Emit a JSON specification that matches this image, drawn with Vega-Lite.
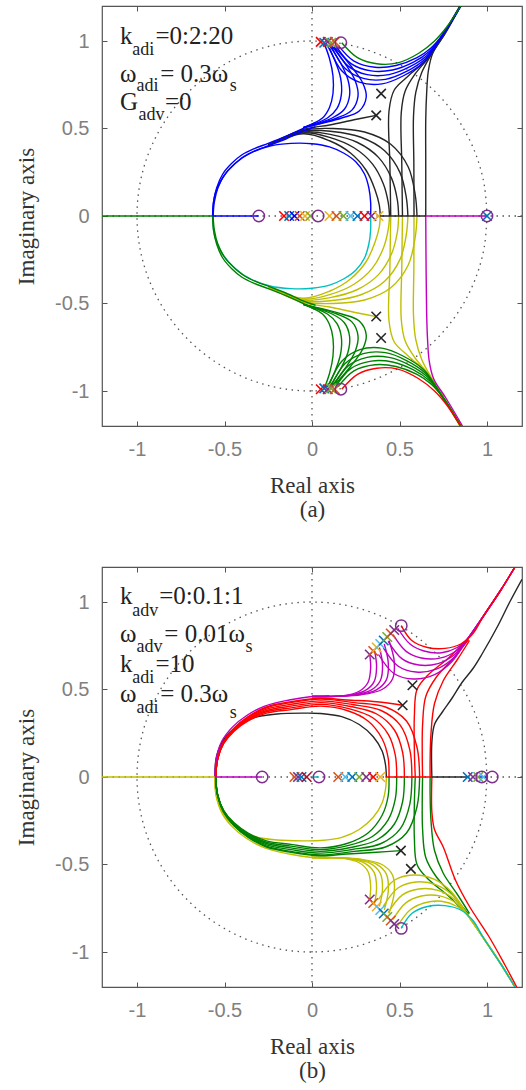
{
"$schema":"https://vega.github.io/schema/vega-lite/v6.json",
"background":"white",
"padding":{"left":14,"top":4,"right":0,"bottom":0},
"spacing":43,
"config":{
 "view":{"stroke":"#555","strokeWidth":1.2},
 "axis":{"grid":false,"domain":false,"labelFont":"Liberation Sans","labelFontSize":20,"labelColor":"#808080","titleFont":"Liberation Serif, Times New Roman, serif","titleFontSize":23,"titleFontWeight":"normal","titleColor":"#333","tickColor":"#555","tickSize":-5,"tickWidth":1},
 "axisX":{"labelPadding":18,"titlePadding":15,"titleLineHeight":24},
 "axisY":{"labelPadding":18,"titlePadding":16}
},
"datasets":{
"circ":[{"x":1,"y":0},{"x":0.985,"y":0.174},{"x":0.94,"y":0.342},{"x":0.866,"y":0.5},{"x":0.766,"y":0.643},{"x":0.643,"y":0.766},{"x":0.5,"y":0.866},{"x":0.342,"y":0.94},{"x":0.174,"y":0.985},{"x":0,"y":1},{"x":-0.174,"y":0.985},{"x":-0.342,"y":0.94},{"x":-0.5,"y":0.866},{"x":-0.643,"y":0.766},{"x":-0.766,"y":0.643},{"x":-0.866,"y":0.5},{"x":-0.94,"y":0.342},{"x":-0.985,"y":0.174},{"x":-1,"y":0},{"x":-0.985,"y":-0.174},{"x":-0.94,"y":-0.342},{"x":-0.866,"y":-0.5},{"x":-0.766,"y":-0.643},{"x":-0.643,"y":-0.766},{"x":-0.5,"y":-0.866},{"x":-0.342,"y":-0.94},{"x":-0.174,"y":-0.985},{"x":0,"y":-1},{"x":0.174,"y":-0.985},{"x":0.342,"y":-0.94},{"x":0.5,"y":-0.866},{"x":0.643,"y":-0.766},{"x":0.766,"y":-0.643},{"x":0.866,"y":-0.5},{"x":0.94,"y":-0.342},{"x":0.985,"y":-0.174},{"x":1,"y":0}],
"al":[
{"k":"k0","c":"K","x":-0.25,"y":0.405},{"k":"k0","c":"K","x":-0.05,"y":0.47},{"k":"k0","c":"K","x":0.1,"y":0.43},{"k":"k0","c":"K","x":0.22,"y":0.36},{"k":"k0","c":"K","x":0.31,"y":0.26},{"k":"k0","c":"K","x":0.36,"y":0.15},{"k":"k0","c":"K","x":0.385,"y":0.06},{"k":"k0","c":"K","x":0.39,"y":0},
{"k":"k1","c":"K","x":-0.25,"y":0.405},{"k":"k1","c":"K","x":-0.05,"y":0.475},{"k":"k1","c":"K","x":0.105,"y":0.448},{"k":"k1","c":"K","x":0.24,"y":0.39},{"k":"k1","c":"K","x":0.345,"y":0.298},{"k":"k1","c":"K","x":0.408,"y":0.183},{"k":"k1","c":"K","x":0.436,"y":0.075},{"k":"k1","c":"K","x":0.443,"y":0},
{"k":"k2","c":"K","x":-0.25,"y":0.405},{"k":"k2","c":"K","x":-0.05,"y":0.48},{"k":"k2","c":"K","x":0.11,"y":0.465},{"k":"k2","c":"K","x":0.26,"y":0.42},{"k":"k2","c":"K","x":0.38,"y":0.335},{"k":"k2","c":"K","x":0.455,"y":0.215},{"k":"k2","c":"K","x":0.488,"y":0.09},{"k":"k2","c":"K","x":0.495,"y":0},
{"k":"k3","c":"K","x":-0.25,"y":0.405},{"k":"k3","c":"K","x":-0.05,"y":0.485},{"k":"k3","c":"K","x":0.115,"y":0.483},{"k":"k3","c":"K","x":0.28,"y":0.45},{"k":"k3","c":"K","x":0.415,"y":0.373},{"k":"k3","c":"K","x":0.503,"y":0.248},{"k":"k3","c":"K","x":0.539,"y":0.105},{"k":"k3","c":"K","x":0.548,"y":0},
{"k":"k4","c":"K","x":-0.25,"y":0.405},{"k":"k4","c":"K","x":-0.05,"y":0.49},{"k":"k4","c":"K","x":0.12,"y":0.5},{"k":"k4","c":"K","x":0.3,"y":0.48},{"k":"k4","c":"K","x":0.45,"y":0.41},{"k":"k4","c":"K","x":0.55,"y":0.28},{"k":"k4","c":"K","x":0.59,"y":0.12},{"k":"k4","c":"K","x":0.6,"y":0},
{"k":"kx","c":"K","x":-0.25,"y":0.405},{"k":"kx","c":"K","x":-0.05,"y":0.495},{"k":"kx","c":"K","x":0.1,"y":0.52},{"k":"kx","c":"K","x":0.24,"y":0.55},{"k":"kx","c":"K","x":0.367,"y":0.575},
{"k":"d0","c":"K","x":0.845,"y":1.2},{"k":"d0","c":"K","x":0.75,"y":1.04},{"k":"d0","c":"K","x":0.66,"y":0.9},{"k":"d0","c":"K","x":0.55,"y":0.8},{"k":"d0","c":"K","x":0.47,"y":0.72},{"k":"d0","c":"K","x":0.44,"y":0.6},{"k":"d0","c":"K","x":0.445,"y":0.3},{"k":"d0","c":"K","x":0.45,"y":0},
{"k":"d1","c":"K","x":0.847,"y":1.2},{"k":"d1","c":"K","x":0.753,"y":1.04},{"k":"d1","c":"K","x":0.67,"y":0.91},{"k":"d1","c":"K","x":0.588,"y":0.81},{"k":"d1","c":"K","x":0.532,"y":0.713},{"k":"d1","c":"K","x":0.51,"y":0.59},{"k":"d1","c":"K","x":0.513,"y":0.3},{"k":"d1","c":"K","x":0.517,"y":0},
{"k":"d2","c":"K","x":0.848,"y":1.2},{"k":"d2","c":"K","x":0.757,"y":1.04},{"k":"d2","c":"K","x":0.68,"y":0.92},{"k":"d2","c":"K","x":0.627,"y":0.82},{"k":"d2","c":"K","x":0.593,"y":0.707},{"k":"d2","c":"K","x":0.58,"y":0.57},{"k":"d2","c":"K","x":0.582,"y":0.3},{"k":"d2","c":"K","x":0.583,"y":0},
{"k":"d3","c":"K","x":0.85,"y":1.2},{"k":"d3","c":"K","x":0.76,"y":1.04},{"k":"d3","c":"K","x":0.69,"y":0.93},{"k":"d3","c":"K","x":0.665,"y":0.83},{"k":"d3","c":"K","x":0.655,"y":0.7},{"k":"d3","c":"K","x":0.65,"y":0.55},{"k":"d3","c":"K","x":0.65,"y":0.3},{"k":"d3","c":"K","x":0.65,"y":0},
{"k":"ic","c":"B","x":-0.568,"y":0},{"k":"ic","c":"B","x":-0.555,"y":0.12},{"k":"ic","c":"B","x":-0.51,"y":0.22},{"k":"ic","c":"B","x":-0.44,"y":0.3},{"k":"ic","c":"B","x":-0.35,"y":0.36},{"k":"ic","c":"B","x":-0.24,"y":0.4},{"k":"ic","c":"B","x":-0.12,"y":0.415},{"k":"ic","c":"B","x":0,"y":0.413},{"k":"ic","c":"B","x":0.1,"y":0.395},{"k":"ic","c":"B","x":0.18,"y":0.36},{"k":"ic","c":"B","x":0.25,"y":0.31},{"k":"ic","c":"B","x":0.3,"y":0.24},{"k":"ic","c":"B","x":0.325,"y":0.16},{"k":"ic","c":"B","x":0.335,"y":0.08},{"k":"ic","c":"B","x":0.335,"y":0},
{"k":"ob1","c":"B","x":-0.568,"y":0},{"k":"ob1","c":"B","x":-0.563,"y":0.08},{"k":"ob1","c":"B","x":-0.545,"y":0.16},{"k":"ob1","c":"B","x":-0.51,"y":0.24},{"k":"ob1","c":"B","x":-0.46,"y":0.3},{"k":"ob1","c":"B","x":-0.4,"y":0.35},{"k":"ob1","c":"B","x":-0.33,"y":0.385},{"k":"ob1","c":"B","x":-0.25,"y":0.415},{"k":"ob1","c":"B","x":-0.15,"y":0.455},{"k":"ob1","c":"B","x":-0.05,"y":0.5},{"k":"ob1","c":"B","x":0.02,"y":0.535},
{"k":"ob2","c":"B","x":-0.565,"y":0},{"k":"ob2","c":"B","x":-0.558,"y":0.08},{"k":"ob2","c":"B","x":-0.538,"y":0.16},{"k":"ob2","c":"B","x":-0.5,"y":0.235},{"k":"ob2","c":"B","x":-0.45,"y":0.29},{"k":"ob2","c":"B","x":-0.39,"y":0.34},{"k":"ob2","c":"B","x":-0.32,"y":0.375},{"k":"ob2","c":"B","x":-0.24,"y":0.405},{"k":"ob2","c":"B","x":-0.15,"y":0.44},{"k":"ob2","c":"B","x":-0.05,"y":0.485},{"k":"ob2","c":"B","x":0.02,"y":0.51},
{"k":"u0","c":"B","x":0.07,"y":0.985},{"k":"u0","c":"B","x":0.1,"y":0.9},{"k":"u0","c":"B","x":0.12,"y":0.8},{"k":"u0","c":"B","x":0.12,"y":0.7},{"k":"u0","c":"B","x":0.1,"y":0.62},{"k":"u0","c":"B","x":0.06,"y":0.56},{"k":"u0","c":"B","x":-0.05,"y":0.505},
{"k":"u1","c":"B","x":0.085,"y":0.98},{"k":"u1","c":"B","x":0.13,"y":0.89},{"k":"u1","c":"B","x":0.163,"y":0.79},{"k":"u1","c":"B","x":0.168,"y":0.695},{"k":"u1","c":"B","x":0.143,"y":0.615},{"k":"u1","c":"B","x":0.088,"y":0.56},{"k":"u1","c":"B","x":-0.05,"y":0.505},
{"k":"u2","c":"B","x":0.1,"y":0.975},{"k":"u2","c":"B","x":0.16,"y":0.88},{"k":"u2","c":"B","x":0.205,"y":0.78},{"k":"u2","c":"B","x":0.215,"y":0.69},{"k":"u2","c":"B","x":0.185,"y":0.61},{"k":"u2","c":"B","x":0.115,"y":0.56},{"k":"u2","c":"B","x":-0.05,"y":0.505},
{"k":"u3","c":"B","x":0.115,"y":0.97},{"k":"u3","c":"B","x":0.19,"y":0.87},{"k":"u3","c":"B","x":0.248,"y":0.77},{"k":"u3","c":"B","x":0.263,"y":0.685},{"k":"u3","c":"B","x":0.228,"y":0.605},{"k":"u3","c":"B","x":0.143,"y":0.56},{"k":"u3","c":"B","x":-0.05,"y":0.505},
{"k":"u4","c":"B","x":0.13,"y":0.965},{"k":"u4","c":"B","x":0.22,"y":0.86},{"k":"u4","c":"B","x":0.29,"y":0.76},{"k":"u4","c":"B","x":0.31,"y":0.68},{"k":"u4","c":"B","x":0.27,"y":0.6},{"k":"u4","c":"B","x":0.17,"y":0.56},{"k":"u4","c":"B","x":-0.05,"y":0.505},
{"k":"r0","c":"B","x":0.15,"y":0.975},{"k":"r0","c":"B","x":0.24,"y":0.885},{"k":"r0","c":"B","x":0.36,"y":0.85},{"k":"r0","c":"B","x":0.48,"y":0.86},{"k":"r0","c":"B","x":0.6,"y":0.905},{"k":"r0","c":"B","x":0.68,"y":0.96},{"k":"r0","c":"B","x":0.75,"y":1.04},{"k":"r0","c":"B","x":0.85,"y":1.2},
{"k":"r1","c":"B","x":0.138,"y":0.971},{"k":"r1","c":"B","x":0.223,"y":0.871},{"k":"r1","c":"B","x":0.338,"y":0.829},{"k":"r1","c":"B","x":0.46,"y":0.834},{"k":"r1","c":"B","x":0.58,"y":0.879},{"k":"r1","c":"B","x":0.67,"y":0.94},{"k":"r1","c":"B","x":0.75,"y":1.04},{"k":"r1","c":"B","x":0.85,"y":1.2},
{"k":"r2","c":"B","x":0.125,"y":0.968},{"k":"r2","c":"B","x":0.205,"y":0.858},{"k":"r2","c":"B","x":0.315,"y":0.808},{"k":"r2","c":"B","x":0.44,"y":0.808},{"k":"r2","c":"B","x":0.56,"y":0.853},{"k":"r2","c":"B","x":0.66,"y":0.92},{"k":"r2","c":"B","x":0.75,"y":1.04},{"k":"r2","c":"B","x":0.85,"y":1.2},
{"k":"r3","c":"B","x":0.113,"y":0.964},{"k":"r3","c":"B","x":0.188,"y":0.844},{"k":"r3","c":"B","x":0.293,"y":0.786},{"k":"r3","c":"B","x":0.42,"y":0.781},{"k":"r3","c":"B","x":0.54,"y":0.826},{"k":"r3","c":"B","x":0.65,"y":0.9},{"k":"r3","c":"B","x":0.75,"y":1.04},{"k":"r3","c":"B","x":0.85,"y":1.2},
{"k":"r4","c":"B","x":0.1,"y":0.96},{"k":"r4","c":"B","x":0.17,"y":0.83},{"k":"r4","c":"B","x":0.27,"y":0.765},{"k":"r4","c":"B","x":0.4,"y":0.755},{"k":"r4","c":"B","x":0.52,"y":0.8},{"k":"r4","c":"B","x":0.64,"y":0.88},{"k":"r4","c":"B","x":0.75,"y":1.04},{"k":"r4","c":"B","x":0.85,"y":1.2},
{"k":"gt","c":"G","x":0.17,"y":0.99},{"k":"gt","c":"G","x":0.26,"y":0.905},{"k":"gt","c":"G","x":0.37,"y":0.87},{"k":"gt","c":"G","x":0.49,"y":0.875},{"k":"gt","c":"G","x":0.61,"y":0.93},{"k":"gt","c":"G","x":0.7,"y":1},{"k":"gt","c":"G","x":0.77,"y":1.08},{"k":"gt","c":"G","x":0.85,"y":1.2},
{"k":"k0L","c":"Y","x":-0.25,"y":-0.405},{"k":"k0L","c":"Y","x":-0.05,"y":-0.47},{"k":"k0L","c":"Y","x":0.1,"y":-0.43},{"k":"k0L","c":"Y","x":0.22,"y":-0.36},{"k":"k0L","c":"Y","x":0.31,"y":-0.26},{"k":"k0L","c":"Y","x":0.36,"y":-0.15},{"k":"k0L","c":"Y","x":0.385,"y":-0.06},{"k":"k0L","c":"Y","x":0.39,"y":0},
{"k":"k1L","c":"Y","x":-0.25,"y":-0.405},{"k":"k1L","c":"Y","x":-0.05,"y":-0.475},{"k":"k1L","c":"Y","x":0.105,"y":-0.448},{"k":"k1L","c":"Y","x":0.24,"y":-0.39},{"k":"k1L","c":"Y","x":0.345,"y":-0.298},{"k":"k1L","c":"Y","x":0.408,"y":-0.183},{"k":"k1L","c":"Y","x":0.436,"y":-0.075},{"k":"k1L","c":"Y","x":0.443,"y":0},
{"k":"k2L","c":"Y","x":-0.25,"y":-0.405},{"k":"k2L","c":"Y","x":-0.05,"y":-0.48},{"k":"k2L","c":"Y","x":0.11,"y":-0.465},{"k":"k2L","c":"Y","x":0.26,"y":-0.42},{"k":"k2L","c":"Y","x":0.38,"y":-0.335},{"k":"k2L","c":"Y","x":0.455,"y":-0.215},{"k":"k2L","c":"Y","x":0.488,"y":-0.09},{"k":"k2L","c":"Y","x":0.495,"y":0},
{"k":"k3L","c":"Y","x":-0.25,"y":-0.405},{"k":"k3L","c":"Y","x":-0.05,"y":-0.485},{"k":"k3L","c":"Y","x":0.115,"y":-0.483},{"k":"k3L","c":"Y","x":0.28,"y":-0.45},{"k":"k3L","c":"Y","x":0.415,"y":-0.373},{"k":"k3L","c":"Y","x":0.503,"y":-0.248},{"k":"k3L","c":"Y","x":0.539,"y":-0.105},{"k":"k3L","c":"Y","x":0.548,"y":0},
{"k":"k4L","c":"Y","x":-0.25,"y":-0.405},{"k":"k4L","c":"Y","x":-0.05,"y":-0.49},{"k":"k4L","c":"Y","x":0.12,"y":-0.5},{"k":"k4L","c":"Y","x":0.3,"y":-0.48},{"k":"k4L","c":"Y","x":0.45,"y":-0.41},{"k":"k4L","c":"Y","x":0.55,"y":-0.28},{"k":"k4L","c":"Y","x":0.59,"y":-0.12},{"k":"k4L","c":"Y","x":0.6,"y":0},
{"k":"kxL","c":"Y","x":-0.25,"y":-0.405},{"k":"kxL","c":"Y","x":-0.05,"y":-0.495},{"k":"kxL","c":"Y","x":0.1,"y":-0.52},{"k":"kxL","c":"Y","x":0.24,"y":-0.55},{"k":"kxL","c":"Y","x":0.367,"y":-0.575},
{"k":"d0L","c":"Y","x":0.845,"y":-1.2},{"k":"d0L","c":"Y","x":0.75,"y":-1.04},{"k":"d0L","c":"Y","x":0.66,"y":-0.9},{"k":"d0L","c":"Y","x":0.55,"y":-0.8},{"k":"d0L","c":"Y","x":0.47,"y":-0.72},{"k":"d0L","c":"Y","x":0.44,"y":-0.6},{"k":"d0L","c":"Y","x":0.445,"y":-0.3},{"k":"d0L","c":"Y","x":0.45,"y":0},
{"k":"d1L","c":"Y","x":0.847,"y":-1.2},{"k":"d1L","c":"Y","x":0.753,"y":-1.04},{"k":"d1L","c":"Y","x":0.67,"y":-0.91},{"k":"d1L","c":"Y","x":0.588,"y":-0.81},{"k":"d1L","c":"Y","x":0.532,"y":-0.713},{"k":"d1L","c":"Y","x":0.51,"y":-0.59},{"k":"d1L","c":"Y","x":0.513,"y":-0.3},{"k":"d1L","c":"Y","x":0.517,"y":0},
{"k":"d2L","c":"Y","x":0.848,"y":-1.2},{"k":"d2L","c":"Y","x":0.757,"y":-1.04},{"k":"d2L","c":"Y","x":0.68,"y":-0.92},{"k":"d2L","c":"Y","x":0.627,"y":-0.82},{"k":"d2L","c":"Y","x":0.593,"y":-0.707},{"k":"d2L","c":"Y","x":0.58,"y":-0.57},{"k":"d2L","c":"Y","x":0.582,"y":-0.3},{"k":"d2L","c":"Y","x":0.583,"y":0},
{"k":"d3L","c":"M","x":0.86,"y":-1.2},{"k":"d3L","c":"M","x":0.765,"y":-1.04},{"k":"d3L","c":"M","x":0.695,"y":-0.93},{"k":"d3L","c":"M","x":0.67,"y":-0.83},{"k":"d3L","c":"M","x":0.66,"y":-0.7},{"k":"d3L","c":"M","x":0.655,"y":-0.55},{"k":"d3L","c":"M","x":0.652,"y":-0.3},{"k":"d3L","c":"M","x":0.65,"y":0},
{"k":"icL","c":"C","x":-0.568,"y":0},{"k":"icL","c":"C","x":-0.555,"y":-0.12},{"k":"icL","c":"C","x":-0.51,"y":-0.22},{"k":"icL","c":"C","x":-0.44,"y":-0.3},{"k":"icL","c":"C","x":-0.35,"y":-0.36},{"k":"icL","c":"C","x":-0.24,"y":-0.4},{"k":"icL","c":"C","x":-0.12,"y":-0.415},{"k":"icL","c":"C","x":0,"y":-0.413},{"k":"icL","c":"C","x":0.1,"y":-0.395},{"k":"icL","c":"C","x":0.18,"y":-0.36},{"k":"icL","c":"C","x":0.25,"y":-0.31},{"k":"icL","c":"C","x":0.3,"y":-0.24},{"k":"icL","c":"C","x":0.325,"y":-0.16},{"k":"icL","c":"C","x":0.335,"y":-0.08},{"k":"icL","c":"C","x":0.335,"y":0},
{"k":"ob1L","c":"G","x":-0.568,"y":0},{"k":"ob1L","c":"G","x":-0.563,"y":-0.08},{"k":"ob1L","c":"G","x":-0.545,"y":-0.16},{"k":"ob1L","c":"G","x":-0.51,"y":-0.24},{"k":"ob1L","c":"G","x":-0.46,"y":-0.3},{"k":"ob1L","c":"G","x":-0.4,"y":-0.35},{"k":"ob1L","c":"G","x":-0.33,"y":-0.385},{"k":"ob1L","c":"G","x":-0.25,"y":-0.415},{"k":"ob1L","c":"G","x":-0.15,"y":-0.455},{"k":"ob1L","c":"G","x":-0.05,"y":-0.5},{"k":"ob1L","c":"G","x":0.02,"y":-0.535},
{"k":"ob2L","c":"G","x":-0.565,"y":0},{"k":"ob2L","c":"G","x":-0.558,"y":-0.08},{"k":"ob2L","c":"G","x":-0.538,"y":-0.16},{"k":"ob2L","c":"G","x":-0.5,"y":-0.235},{"k":"ob2L","c":"G","x":-0.45,"y":-0.29},{"k":"ob2L","c":"G","x":-0.39,"y":-0.34},{"k":"ob2L","c":"G","x":-0.32,"y":-0.375},{"k":"ob2L","c":"G","x":-0.24,"y":-0.405},{"k":"ob2L","c":"G","x":-0.15,"y":-0.44},{"k":"ob2L","c":"G","x":-0.05,"y":-0.485},{"k":"ob2L","c":"G","x":0.02,"y":-0.51},
{"k":"u0L","c":"G","x":0.07,"y":-0.985},{"k":"u0L","c":"G","x":0.1,"y":-0.9},{"k":"u0L","c":"G","x":0.12,"y":-0.8},{"k":"u0L","c":"G","x":0.12,"y":-0.7},{"k":"u0L","c":"G","x":0.1,"y":-0.62},{"k":"u0L","c":"G","x":0.06,"y":-0.56},{"k":"u0L","c":"G","x":-0.05,"y":-0.505},
{"k":"u1L","c":"G","x":0.085,"y":-0.98},{"k":"u1L","c":"G","x":0.13,"y":-0.89},{"k":"u1L","c":"G","x":0.163,"y":-0.79},{"k":"u1L","c":"G","x":0.168,"y":-0.695},{"k":"u1L","c":"G","x":0.143,"y":-0.615},{"k":"u1L","c":"G","x":0.088,"y":-0.56},{"k":"u1L","c":"G","x":-0.05,"y":-0.505},
{"k":"u2L","c":"G","x":0.1,"y":-0.975},{"k":"u2L","c":"G","x":0.16,"y":-0.88},{"k":"u2L","c":"G","x":0.205,"y":-0.78},{"k":"u2L","c":"G","x":0.215,"y":-0.69},{"k":"u2L","c":"G","x":0.185,"y":-0.61},{"k":"u2L","c":"G","x":0.115,"y":-0.56},{"k":"u2L","c":"G","x":-0.05,"y":-0.505},
{"k":"u3L","c":"G","x":0.115,"y":-0.97},{"k":"u3L","c":"G","x":0.19,"y":-0.87},{"k":"u3L","c":"G","x":0.248,"y":-0.77},{"k":"u3L","c":"G","x":0.263,"y":-0.685},{"k":"u3L","c":"G","x":0.228,"y":-0.605},{"k":"u3L","c":"G","x":0.143,"y":-0.56},{"k":"u3L","c":"G","x":-0.05,"y":-0.505},
{"k":"u4L","c":"G","x":0.13,"y":-0.965},{"k":"u4L","c":"G","x":0.22,"y":-0.86},{"k":"u4L","c":"G","x":0.29,"y":-0.76},{"k":"u4L","c":"G","x":0.31,"y":-0.68},{"k":"u4L","c":"G","x":0.27,"y":-0.6},{"k":"u4L","c":"G","x":0.17,"y":-0.56},{"k":"u4L","c":"G","x":-0.05,"y":-0.505},
{"k":"r0L","c":"G","x":0.15,"y":-0.975},{"k":"r0L","c":"G","x":0.24,"y":-0.885},{"k":"r0L","c":"G","x":0.36,"y":-0.85},{"k":"r0L","c":"G","x":0.48,"y":-0.86},{"k":"r0L","c":"G","x":0.6,"y":-0.905},{"k":"r0L","c":"G","x":0.68,"y":-0.96},{"k":"r0L","c":"G","x":0.75,"y":-1.04},{"k":"r0L","c":"G","x":0.85,"y":-1.2},
{"k":"r1L","c":"G","x":0.138,"y":-0.971},{"k":"r1L","c":"G","x":0.223,"y":-0.871},{"k":"r1L","c":"G","x":0.338,"y":-0.829},{"k":"r1L","c":"G","x":0.46,"y":-0.834},{"k":"r1L","c":"G","x":0.58,"y":-0.879},{"k":"r1L","c":"G","x":0.67,"y":-0.94},{"k":"r1L","c":"G","x":0.75,"y":-1.04},{"k":"r1L","c":"G","x":0.85,"y":-1.2},
{"k":"r2L","c":"G","x":0.125,"y":-0.968},{"k":"r2L","c":"G","x":0.205,"y":-0.858},{"k":"r2L","c":"G","x":0.315,"y":-0.808},{"k":"r2L","c":"G","x":0.44,"y":-0.808},{"k":"r2L","c":"G","x":0.56,"y":-0.853},{"k":"r2L","c":"G","x":0.66,"y":-0.92},{"k":"r2L","c":"G","x":0.75,"y":-1.04},{"k":"r2L","c":"G","x":0.85,"y":-1.2},
{"k":"r3L","c":"G","x":0.113,"y":-0.964},{"k":"r3L","c":"G","x":0.188,"y":-0.844},{"k":"r3L","c":"G","x":0.293,"y":-0.786},{"k":"r3L","c":"G","x":0.42,"y":-0.781},{"k":"r3L","c":"G","x":0.54,"y":-0.826},{"k":"r3L","c":"G","x":0.65,"y":-0.9},{"k":"r3L","c":"G","x":0.75,"y":-1.04},{"k":"r3L","c":"G","x":0.85,"y":-1.2},
{"k":"r4L","c":"G","x":0.1,"y":-0.96},{"k":"r4L","c":"G","x":0.17,"y":-0.83},{"k":"r4L","c":"G","x":0.27,"y":-0.765},{"k":"r4L","c":"G","x":0.4,"y":-0.755},{"k":"r4L","c":"G","x":0.52,"y":-0.8},{"k":"r4L","c":"G","x":0.64,"y":-0.88},{"k":"r4L","c":"G","x":0.75,"y":-1.04},{"k":"r4L","c":"G","x":0.85,"y":-1.2},
{"k":"gtL","c":"R","x":0.17,"y":-0.99},{"k":"gtL","c":"R","x":0.26,"y":-0.905},{"k":"gtL","c":"R","x":0.37,"y":-0.87},{"k":"gtL","c":"R","x":0.49,"y":-0.875},{"k":"gtL","c":"R","x":0.61,"y":-0.93},{"k":"gtL","c":"R","x":0.7,"y":-1},{"k":"gtL","c":"R","x":0.77,"y":-1.08},{"k":"gtL","c":"R","x":0.85,"y":-1.2},
{"k":"gr","c":"G","x":-1.2,"y":0},{"k":"gr","c":"G","x":-0.568,"y":0},
{"k":"br","c":"B","x":-0.568,"y":0},{"k":"br","c":"B","x":-0.304,"y":0},
{"k":"kr","c":"K","x":0.38,"y":0},{"k":"kr","c":"K","x":0.65,"y":0},
{"k":"mr","c":"M","x":0.65,"y":0},{"k":"mr","c":"M","x":1,"y":0}
],
"ax":[
{"c":"R","x":0.05,"y":0.995},{"c":"m1","x":0.07,"y":0.99},{"c":"m4","x":0.09,"y":0.995},{"c":"m5","x":0.11,"y":0.99},{"c":"m2","x":0.13,"y":0.995},
{"c":"R","x":0.05,"y":-0.99},{"c":"m1","x":0.07,"y":-0.985},{"c":"m4","x":0.09,"y":-0.99},{"c":"m5","x":0.11,"y":-0.985},{"c":"m2","x":0.13,"y":-0.99},
{"c":"R","x":-0.16,"y":0},{"c":"m1","x":-0.13,"y":0},{"c":"B","x":-0.1,"y":0},{"c":"m2","x":-0.07,"y":0},{"c":"m3","x":-0.04,"y":0},{"c":"m5","x":-0.01,"y":0},
{"c":"m3","x":0.1,"y":0},{"c":"m2","x":0.14,"y":0},{"c":"m5","x":0.18,"y":0},{"c":"m6","x":0.22,"y":0},{"c":"m1","x":0.26,"y":0},{"c":"R","x":0.3,"y":0},{"c":"m4","x":0.34,"y":0},{"c":"m3","x":0.38,"y":0},{"c":"m1","x":1,"y":0},
{"c":"K","x":0.395,"y":0.699},{"c":"K","x":0.367,"y":0.575},{"c":"K","x":0.367,"y":-0.574},{"c":"K","x":0.395,"y":-0.697}
],
"ao":[{"x":-0.304,"y":0},{"x":0.035,"y":0},{"x":1,"y":0},{"x":0.165,"y":0.99},{"x":0.165,"y":-0.99}],
"at":[{"t":"k","x":-1.097,"y":0.983},{"t":"=0:2:20","x":-0.895,"y":0.983},{"t":"ω","x":-1.097,"y":0.765},{"t":"= 0.3ω","x":-0.867,"y":0.765},{"t":"G","x":-1.097,"y":0.603},{"t":"=0","x":-0.84,"y":0.603}],
"as":[{"t":"adi","x":-1.027,"y":0.921},{"t":"adi","x":-1.003,"y":0.712},{"t":"s","x":-0.47,"y":0.712},{"t":"adv","x":-0.992,"y":0.547}],
"bl":[
{"k":"bi","c":"K","x":-0.555,"y":0},{"k":"bi","c":"K","x":-0.545,"y":0.12},{"k":"bi","c":"K","x":-0.5,"y":0.22},{"k":"bi","c":"K","x":-0.43,"y":0.29},{"k":"bi","c":"K","x":-0.33,"y":0.34},{"k":"bi","c":"K","x":-0.2,"y":0.36},{"k":"bi","c":"K","x":-0.05,"y":0.365},{"k":"bi","c":"K","x":0.05,"y":0.363},{"k":"bi","c":"K","x":0.17,"y":0.345},{"k":"bi","c":"K","x":0.27,"y":0.3},{"k":"bi","c":"K","x":0.35,"y":0.23},{"k":"bi","c":"K","x":0.4,"y":0.15},{"k":"bi","c":"K","x":0.42,"y":0.07},{"k":"bi","c":"K","x":0.425,"y":0},
{"k":"R0","c":"R","x":-0.55,"y":0},{"k":"R0","c":"R","x":-0.54,"y":0.1},{"k":"R0","c":"R","x":-0.505,"y":0.19},{"k":"R0","c":"R","x":-0.445,"y":0.262},{"k":"R0","c":"R","x":-0.365,"y":0.32},{"k":"R0","c":"R","x":-0.26,"y":0.365},{"k":"R0","c":"R","x":-0.12,"y":0.385},{"k":"R0","c":"R","x":0.05,"y":0.405},{"k":"R0","c":"R","x":0.2,"y":0.38},{"k":"R0","c":"R","x":0.32,"y":0.32},{"k":"R0","c":"R","x":0.4,"y":0.22},{"k":"R0","c":"R","x":0.435,"y":0.11},{"k":"R0","c":"R","x":0.44,"y":0},
{"k":"R1","c":"R","x":-0.55,"y":0},{"k":"R1","c":"R","x":-0.54,"y":0.1},{"k":"R1","c":"R","x":-0.505,"y":0.193},{"k":"R1","c":"R","x":-0.445,"y":0.266},{"k":"R1","c":"R","x":-0.365,"y":0.325},{"k":"R1","c":"R","x":-0.26,"y":0.373},{"k":"R1","c":"R","x":-0.12,"y":0.395},{"k":"R1","c":"R","x":0.05,"y":0.415},{"k":"R1","c":"R","x":0.21,"y":0.391},{"k":"R1","c":"R","x":0.345,"y":0.34},{"k":"R1","c":"R","x":0.435,"y":0.245},{"k":"R1","c":"R","x":0.476,"y":0.125},{"k":"R1","c":"R","x":0.484,"y":0},
{"k":"R2","c":"R","x":-0.55,"y":0},{"k":"R2","c":"R","x":-0.54,"y":0.1},{"k":"R2","c":"R","x":-0.505,"y":0.195},{"k":"R2","c":"R","x":-0.445,"y":0.27},{"k":"R2","c":"R","x":-0.365,"y":0.33},{"k":"R2","c":"R","x":-0.26,"y":0.38},{"k":"R2","c":"R","x":-0.12,"y":0.405},{"k":"R2","c":"R","x":0.05,"y":0.425},{"k":"R2","c":"R","x":0.22,"y":0.403},{"k":"R2","c":"R","x":0.37,"y":0.36},{"k":"R2","c":"R","x":0.47,"y":0.27},{"k":"R2","c":"R","x":0.518,"y":0.14},{"k":"R2","c":"R","x":0.528,"y":0},
{"k":"R3","c":"R","x":-0.55,"y":0},{"k":"R3","c":"R","x":-0.54,"y":0.1},{"k":"R3","c":"R","x":-0.505,"y":0.198},{"k":"R3","c":"R","x":-0.445,"y":0.273},{"k":"R3","c":"R","x":-0.365,"y":0.335},{"k":"R3","c":"R","x":-0.26,"y":0.388},{"k":"R3","c":"R","x":-0.12,"y":0.415},{"k":"R3","c":"R","x":0.05,"y":0.435},{"k":"R3","c":"R","x":0.23,"y":0.414},{"k":"R3","c":"R","x":0.395,"y":0.38},{"k":"R3","c":"R","x":0.505,"y":0.295},{"k":"R3","c":"R","x":0.559,"y":0.155},{"k":"R3","c":"R","x":0.571,"y":0},
{"k":"R4","c":"R","x":-0.55,"y":0},{"k":"R4","c":"R","x":-0.54,"y":0.1},{"k":"R4","c":"R","x":-0.505,"y":0.2},{"k":"R4","c":"R","x":-0.445,"y":0.277},{"k":"R4","c":"R","x":-0.365,"y":0.34},{"k":"R4","c":"R","x":-0.26,"y":0.395},{"k":"R4","c":"R","x":-0.12,"y":0.425},{"k":"R4","c":"R","x":0.05,"y":0.445},{"k":"R4","c":"R","x":0.24,"y":0.425},{"k":"R4","c":"R","x":0.42,"y":0.4},{"k":"R4","c":"R","x":0.54,"y":0.32},{"k":"R4","c":"R","x":0.6,"y":0.17},{"k":"R4","c":"R","x":0.615,"y":0},
{"k":"rx","c":"R","x":-0.55,"y":0},{"k":"rx","c":"R","x":-0.54,"y":0.1},{"k":"rx","c":"R","x":-0.505,"y":0.2},{"k":"rx","c":"R","x":-0.445,"y":0.28},{"k":"rx","c":"R","x":-0.365,"y":0.345},{"k":"rx","c":"R","x":-0.26,"y":0.4},{"k":"rx","c":"R","x":-0.12,"y":0.43},{"k":"rx","c":"R","x":0.05,"y":0.45},{"k":"rx","c":"R","x":0.2,"y":0.44},{"k":"rx","c":"R","x":0.37,"y":0.43},{"k":"rx","c":"R","x":0.518,"y":0.41},
{"k":"e0","c":"R","x":0.89,"y":0.79},{"k":"e0","c":"R","x":0.78,"y":0.68},{"k":"e0","c":"R","x":0.66,"y":0.58},{"k":"e0","c":"R","x":0.6,"y":0.5},{"k":"e0","c":"R","x":0.585,"y":0.35},{"k":"e0","c":"R","x":0.585,"y":0.15},{"k":"e0","c":"R","x":0.59,"y":0},
{"k":"e1","c":"R","x":0.895,"y":0.785},{"k":"e1","c":"R","x":0.805,"y":0.675},{"k":"e1","c":"R","x":0.71,"y":0.57},{"k":"e1","c":"R","x":0.65,"y":0.46},{"k":"e1","c":"R","x":0.632,"y":0.3},{"k":"e1","c":"R","x":0.63,"y":0.125},{"k":"e1","c":"R","x":0.632,"y":0},
{"k":"e2","c":"R","x":0.9,"y":0.78},{"k":"e2","c":"R","x":0.83,"y":0.67},{"k":"e2","c":"R","x":0.75,"y":0.55},{"k":"e2","c":"R","x":0.7,"y":0.42},{"k":"e2","c":"R","x":0.68,"y":0.25},{"k":"e2","c":"R","x":0.675,"y":0.1},{"k":"e2","c":"R","x":0.675,"y":0},
{"k":"bo","c":"K","x":0.685,"y":0},{"k":"bo","c":"K","x":0.685,"y":0.2},{"k":"bo","c":"K","x":0.7,"y":0.3},{"k":"bo","c":"K","x":0.744,"y":0.37},{"k":"bo","c":"K","x":0.8,"y":0.45},{"k":"bo","c":"K","x":0.857,"y":0.54},{"k":"bo","c":"K","x":0.92,"y":0.62},{"k":"bo","c":"K","x":0.97,"y":0.7},{"k":"bo","c":"K","x":1.06,"y":0.86},{"k":"bo","c":"K","x":1.13,"y":1},{"k":"bo","c":"K","x":1.2,"y":1.13},
{"k":"n0","c":"M","x":0.33,"y":0.7},{"k":"n0","c":"M","x":0.335,"y":0.62},{"k":"n0","c":"M","x":0.32,"y":0.54},{"k":"n0","c":"M","x":0.27,"y":0.49},{"k":"n0","c":"M","x":0.18,"y":0.465},{"k":"n0","c":"M","x":0,"y":0.46},
{"k":"n1","c":"M","x":0.358,"y":0.72},{"k":"n1","c":"M","x":0.369,"y":0.63},{"k":"n1","c":"M","x":0.355,"y":0.545},{"k":"n1","c":"M","x":0.303,"y":0.493},{"k":"n1","c":"M","x":0.205,"y":0.466},{"k":"n1","c":"M","x":0,"y":0.46},
{"k":"n2","c":"M","x":0.385,"y":0.74},{"k":"n2","c":"M","x":0.403,"y":0.64},{"k":"n2","c":"M","x":0.39,"y":0.55},{"k":"n2","c":"M","x":0.335,"y":0.495},{"k":"n2","c":"M","x":0.23,"y":0.468},{"k":"n2","c":"M","x":0,"y":0.46},
{"k":"n3","c":"M","x":0.413,"y":0.76},{"k":"n3","c":"M","x":0.436,"y":0.65},{"k":"n3","c":"M","x":0.425,"y":0.555},{"k":"n3","c":"M","x":0.368,"y":0.498},{"k":"n3","c":"M","x":0.255,"y":0.469},{"k":"n3","c":"M","x":0,"y":0.46},
{"k":"n4","c":"M","x":0.44,"y":0.78},{"k":"n4","c":"M","x":0.47,"y":0.66},{"k":"n4","c":"M","x":0.46,"y":0.56},{"k":"n4","c":"M","x":0.4,"y":0.5},{"k":"n4","c":"M","x":0.28,"y":0.47},{"k":"n4","c":"M","x":0,"y":0.46},
{"k":"m0","c":"M","x":0.49,"y":0.85},{"k":"m0","c":"M","x":0.56,"y":0.76},{"k":"m0","c":"M","x":0.64,"y":0.72},{"k":"m0","c":"M","x":0.74,"y":0.71},{"k":"m0","c":"M","x":0.83,"y":0.74},{"k":"m0","c":"M","x":0.89,"y":0.79},{"k":"m0","c":"M","x":0.98,"y":0.92},{"k":"m0","c":"M","x":1.08,"y":1.07},{"k":"m0","c":"M","x":1.16,"y":1.2},
{"k":"m1","c":"M","x":0.463,"y":0.813},{"k":"m1","c":"M","x":0.538,"y":0.718},{"k":"m1","c":"M","x":0.625,"y":0.68},{"k":"m1","c":"M","x":0.73,"y":0.679},{"k":"m1","c":"M","x":0.823,"y":0.72},{"k":"m1","c":"M","x":0.89,"y":0.79},{"k":"m1","c":"M","x":0.98,"y":0.92},{"k":"m1","c":"M","x":1.08,"y":1.07},{"k":"m1","c":"M","x":1.16,"y":1.2},
{"k":"m2","c":"M","x":0.435,"y":0.775},{"k":"m2","c":"M","x":0.515,"y":0.675},{"k":"m2","c":"M","x":0.61,"y":0.64},{"k":"m2","c":"M","x":0.72,"y":0.648},{"k":"m2","c":"M","x":0.815,"y":0.7},{"k":"m2","c":"M","x":0.89,"y":0.79},{"k":"m2","c":"M","x":0.98,"y":0.92},{"k":"m2","c":"M","x":1.08,"y":1.07},{"k":"m2","c":"M","x":1.16,"y":1.2},
{"k":"m3","c":"M","x":0.408,"y":0.738},{"k":"m3","c":"M","x":0.493,"y":0.633},{"k":"m3","c":"M","x":0.595,"y":0.6},{"k":"m3","c":"M","x":0.71,"y":0.616},{"k":"m3","c":"M","x":0.808,"y":0.68},{"k":"m3","c":"M","x":0.89,"y":0.79},{"k":"m3","c":"M","x":0.98,"y":0.92},{"k":"m3","c":"M","x":1.08,"y":1.07},{"k":"m3","c":"M","x":1.16,"y":1.2},
{"k":"m4","c":"M","x":0.38,"y":0.7},{"k":"m4","c":"M","x":0.47,"y":0.59},{"k":"m4","c":"M","x":0.58,"y":0.56},{"k":"m4","c":"M","x":0.7,"y":0.585},{"k":"m4","c":"M","x":0.8,"y":0.66},{"k":"m4","c":"M","x":0.89,"y":0.79},{"k":"m4","c":"M","x":0.98,"y":0.92},{"k":"m4","c":"M","x":1.08,"y":1.07},{"k":"m4","c":"M","x":1.16,"y":1.2},
{"k":"bm","c":"M","x":-0.555,"y":0},{"k":"bm","c":"M","x":-0.548,"y":0.1},{"k":"bm","c":"M","x":-0.515,"y":0.205},{"k":"bm","c":"M","x":-0.455,"y":0.285},{"k":"bm","c":"M","x":-0.375,"y":0.35},{"k":"bm","c":"M","x":-0.27,"y":0.405},{"k":"bm","c":"M","x":-0.13,"y":0.44},{"k":"bm","c":"M","x":0,"y":0.46},{"k":"bm","c":"M","x":0.1,"y":0.465},
{"k":"rt","c":"R","x":0.51,"y":0.865},{"k":"rt","c":"R","x":0.57,"y":0.78},{"k":"rt","c":"R","x":0.66,"y":0.74},{"k":"rt","c":"R","x":0.76,"y":0.735},{"k":"rt","c":"R","x":0.85,"y":0.76},{"k":"rt","c":"R","x":0.92,"y":0.82},{"k":"rt","c":"R","x":0.98,"y":0.92},{"k":"rt","c":"R","x":1.08,"y":1.07},{"k":"rt","c":"R","x":1.16,"y":1.2},
{"k":"biL","c":"Y","x":-0.555,"y":0},{"k":"biL","c":"Y","x":-0.545,"y":-0.12},{"k":"biL","c":"Y","x":-0.5,"y":-0.22},{"k":"biL","c":"Y","x":-0.43,"y":-0.29},{"k":"biL","c":"Y","x":-0.33,"y":-0.34},{"k":"biL","c":"Y","x":-0.2,"y":-0.36},{"k":"biL","c":"Y","x":-0.05,"y":-0.365},{"k":"biL","c":"Y","x":0.05,"y":-0.363},{"k":"biL","c":"Y","x":0.17,"y":-0.345},{"k":"biL","c":"Y","x":0.27,"y":-0.3},{"k":"biL","c":"Y","x":0.35,"y":-0.23},{"k":"biL","c":"Y","x":0.4,"y":-0.15},{"k":"biL","c":"Y","x":0.42,"y":-0.07},{"k":"biL","c":"Y","x":0.425,"y":0},
{"k":"bmL","c":"Y","x":-0.555,"y":0},{"k":"bmL","c":"Y","x":-0.548,"y":-0.1},{"k":"bmL","c":"Y","x":-0.515,"y":-0.205},{"k":"bmL","c":"Y","x":-0.455,"y":-0.285},{"k":"bmL","c":"Y","x":-0.375,"y":-0.35},{"k":"bmL","c":"Y","x":-0.27,"y":-0.405},{"k":"bmL","c":"Y","x":-0.13,"y":-0.44},{"k":"bmL","c":"Y","x":0,"y":-0.46},{"k":"bmL","c":"Y","x":0.1,"y":-0.465},
{"k":"n0L","c":"Y","x":0.33,"y":-0.7},{"k":"n0L","c":"Y","x":0.335,"y":-0.62},{"k":"n0L","c":"Y","x":0.32,"y":-0.54},{"k":"n0L","c":"Y","x":0.27,"y":-0.49},{"k":"n0L","c":"Y","x":0.18,"y":-0.465},{"k":"n0L","c":"Y","x":0,"y":-0.46},
{"k":"n1L","c":"Y","x":0.358,"y":-0.72},{"k":"n1L","c":"Y","x":0.369,"y":-0.63},{"k":"n1L","c":"Y","x":0.355,"y":-0.545},{"k":"n1L","c":"Y","x":0.303,"y":-0.493},{"k":"n1L","c":"Y","x":0.205,"y":-0.466},{"k":"n1L","c":"Y","x":0,"y":-0.46},
{"k":"n2L","c":"Y","x":0.385,"y":-0.74},{"k":"n2L","c":"Y","x":0.403,"y":-0.64},{"k":"n2L","c":"Y","x":0.39,"y":-0.55},{"k":"n2L","c":"Y","x":0.335,"y":-0.495},{"k":"n2L","c":"Y","x":0.23,"y":-0.468},{"k":"n2L","c":"Y","x":0,"y":-0.46},
{"k":"n3L","c":"Y","x":0.413,"y":-0.76},{"k":"n3L","c":"Y","x":0.436,"y":-0.65},{"k":"n3L","c":"Y","x":0.425,"y":-0.555},{"k":"n3L","c":"Y","x":0.368,"y":-0.498},{"k":"n3L","c":"Y","x":0.255,"y":-0.469},{"k":"n3L","c":"Y","x":0,"y":-0.46},
{"k":"n4L","c":"Y","x":0.44,"y":-0.78},{"k":"n4L","c":"Y","x":0.47,"y":-0.66},{"k":"n4L","c":"Y","x":0.46,"y":-0.56},{"k":"n4L","c":"Y","x":0.4,"y":-0.5},{"k":"n4L","c":"Y","x":0.28,"y":-0.47},{"k":"n4L","c":"Y","x":0,"y":-0.46},
{"k":"R0L","c":"G","x":-0.55,"y":0},{"k":"R0L","c":"G","x":-0.54,"y":-0.1},{"k":"R0L","c":"G","x":-0.505,"y":-0.19},{"k":"R0L","c":"G","x":-0.445,"y":-0.262},{"k":"R0L","c":"G","x":-0.365,"y":-0.32},{"k":"R0L","c":"G","x":-0.26,"y":-0.365},{"k":"R0L","c":"G","x":-0.12,"y":-0.385},{"k":"R0L","c":"G","x":0.05,"y":-0.405},{"k":"R0L","c":"G","x":0.2,"y":-0.38},{"k":"R0L","c":"G","x":0.32,"y":-0.32},{"k":"R0L","c":"G","x":0.4,"y":-0.22},{"k":"R0L","c":"G","x":0.435,"y":-0.11},{"k":"R0L","c":"G","x":0.44,"y":0},
{"k":"R1L","c":"G","x":-0.55,"y":0},{"k":"R1L","c":"G","x":-0.54,"y":-0.1},{"k":"R1L","c":"G","x":-0.505,"y":-0.193},{"k":"R1L","c":"G","x":-0.445,"y":-0.266},{"k":"R1L","c":"G","x":-0.365,"y":-0.325},{"k":"R1L","c":"G","x":-0.26,"y":-0.373},{"k":"R1L","c":"G","x":-0.12,"y":-0.395},{"k":"R1L","c":"G","x":0.05,"y":-0.415},{"k":"R1L","c":"G","x":0.21,"y":-0.391},{"k":"R1L","c":"G","x":0.345,"y":-0.34},{"k":"R1L","c":"G","x":0.435,"y":-0.245},{"k":"R1L","c":"G","x":0.476,"y":-0.125},{"k":"R1L","c":"G","x":0.484,"y":0},
{"k":"R2L","c":"G","x":-0.55,"y":0},{"k":"R2L","c":"G","x":-0.54,"y":-0.1},{"k":"R2L","c":"G","x":-0.505,"y":-0.195},{"k":"R2L","c":"G","x":-0.445,"y":-0.27},{"k":"R2L","c":"G","x":-0.365,"y":-0.33},{"k":"R2L","c":"G","x":-0.26,"y":-0.38},{"k":"R2L","c":"G","x":-0.12,"y":-0.405},{"k":"R2L","c":"G","x":0.05,"y":-0.425},{"k":"R2L","c":"G","x":0.22,"y":-0.403},{"k":"R2L","c":"G","x":0.37,"y":-0.36},{"k":"R2L","c":"G","x":0.47,"y":-0.27},{"k":"R2L","c":"G","x":0.518,"y":-0.14},{"k":"R2L","c":"G","x":0.528,"y":0},
{"k":"R3L","c":"G","x":-0.55,"y":0},{"k":"R3L","c":"G","x":-0.54,"y":-0.1},{"k":"R3L","c":"G","x":-0.505,"y":-0.198},{"k":"R3L","c":"G","x":-0.445,"y":-0.273},{"k":"R3L","c":"G","x":-0.365,"y":-0.335},{"k":"R3L","c":"G","x":-0.26,"y":-0.388},{"k":"R3L","c":"G","x":-0.12,"y":-0.415},{"k":"R3L","c":"G","x":0.05,"y":-0.435},{"k":"R3L","c":"G","x":0.23,"y":-0.414},{"k":"R3L","c":"G","x":0.395,"y":-0.38},{"k":"R3L","c":"G","x":0.505,"y":-0.295},{"k":"R3L","c":"G","x":0.559,"y":-0.155},{"k":"R3L","c":"G","x":0.571,"y":0},
{"k":"R4L","c":"G","x":-0.55,"y":0},{"k":"R4L","c":"G","x":-0.54,"y":-0.1},{"k":"R4L","c":"G","x":-0.505,"y":-0.2},{"k":"R4L","c":"G","x":-0.445,"y":-0.277},{"k":"R4L","c":"G","x":-0.365,"y":-0.34},{"k":"R4L","c":"G","x":-0.26,"y":-0.395},{"k":"R4L","c":"G","x":-0.12,"y":-0.425},{"k":"R4L","c":"G","x":0.05,"y":-0.445},{"k":"R4L","c":"G","x":0.24,"y":-0.425},{"k":"R4L","c":"G","x":0.42,"y":-0.4},{"k":"R4L","c":"G","x":0.54,"y":-0.32},{"k":"R4L","c":"G","x":0.6,"y":-0.17},{"k":"R4L","c":"G","x":0.615,"y":0},
{"k":"rxL","c":"G","x":-0.55,"y":0},{"k":"rxL","c":"G","x":-0.54,"y":-0.1},{"k":"rxL","c":"G","x":-0.505,"y":-0.2},{"k":"rxL","c":"G","x":-0.445,"y":-0.28},{"k":"rxL","c":"G","x":-0.365,"y":-0.345},{"k":"rxL","c":"G","x":-0.26,"y":-0.4},{"k":"rxL","c":"G","x":-0.12,"y":-0.43},{"k":"rxL","c":"G","x":0.05,"y":-0.45},{"k":"rxL","c":"G","x":0.2,"y":-0.44},{"k":"rxL","c":"G","x":0.37,"y":-0.43},{"k":"rxL","c":"G","x":0.508,"y":-0.421},
{"k":"e0L","c":"G","x":0.89,"y":-0.79},{"k":"e0L","c":"G","x":0.78,"y":-0.68},{"k":"e0L","c":"G","x":0.66,"y":-0.58},{"k":"e0L","c":"G","x":0.6,"y":-0.5},{"k":"e0L","c":"G","x":0.585,"y":-0.35},{"k":"e0L","c":"G","x":0.585,"y":-0.15},{"k":"e0L","c":"G","x":0.59,"y":0},
{"k":"e1L","c":"G","x":0.895,"y":-0.785},{"k":"e1L","c":"G","x":0.805,"y":-0.675},{"k":"e1L","c":"G","x":0.71,"y":-0.57},{"k":"e1L","c":"G","x":0.65,"y":-0.46},{"k":"e1L","c":"G","x":0.632,"y":-0.3},{"k":"e1L","c":"G","x":0.63,"y":-0.125},{"k":"e1L","c":"G","x":0.632,"y":0},
{"k":"e2L","c":"G","x":0.9,"y":-0.78},{"k":"e2L","c":"G","x":0.83,"y":-0.67},{"k":"e2L","c":"G","x":0.75,"y":-0.55},{"k":"e2L","c":"G","x":0.7,"y":-0.42},{"k":"e2L","c":"G","x":0.68,"y":-0.25},{"k":"e2L","c":"G","x":0.675,"y":-0.1},{"k":"e2L","c":"G","x":0.675,"y":0},
{"k":"m0L","c":"Y","x":0.49,"y":-0.85},{"k":"m0L","c":"Y","x":0.56,"y":-0.76},{"k":"m0L","c":"Y","x":0.64,"y":-0.72},{"k":"m0L","c":"Y","x":0.74,"y":-0.71},{"k":"m0L","c":"Y","x":0.83,"y":-0.74},{"k":"m0L","c":"Y","x":0.89,"y":-0.79},{"k":"m0L","c":"Y","x":0.98,"y":-0.92},{"k":"m0L","c":"Y","x":1.08,"y":-1.07},{"k":"m0L","c":"Y","x":1.16,"y":-1.2},
{"k":"m1L","c":"Y","x":0.463,"y":-0.813},{"k":"m1L","c":"Y","x":0.538,"y":-0.718},{"k":"m1L","c":"Y","x":0.625,"y":-0.68},{"k":"m1L","c":"Y","x":0.73,"y":-0.679},{"k":"m1L","c":"Y","x":0.823,"y":-0.72},{"k":"m1L","c":"Y","x":0.89,"y":-0.79},{"k":"m1L","c":"Y","x":0.98,"y":-0.92},{"k":"m1L","c":"Y","x":1.08,"y":-1.07},{"k":"m1L","c":"Y","x":1.16,"y":-1.2},
{"k":"m2L","c":"Y","x":0.435,"y":-0.775},{"k":"m2L","c":"Y","x":0.515,"y":-0.675},{"k":"m2L","c":"Y","x":0.61,"y":-0.64},{"k":"m2L","c":"Y","x":0.72,"y":-0.648},{"k":"m2L","c":"Y","x":0.815,"y":-0.7},{"k":"m2L","c":"Y","x":0.89,"y":-0.79},{"k":"m2L","c":"Y","x":0.98,"y":-0.92},{"k":"m2L","c":"Y","x":1.08,"y":-1.07},{"k":"m2L","c":"Y","x":1.16,"y":-1.2},
{"k":"m3L","c":"Y","x":0.408,"y":-0.738},{"k":"m3L","c":"Y","x":0.493,"y":-0.633},{"k":"m3L","c":"Y","x":0.595,"y":-0.6},{"k":"m3L","c":"Y","x":0.71,"y":-0.616},{"k":"m3L","c":"Y","x":0.808,"y":-0.68},{"k":"m3L","c":"Y","x":0.89,"y":-0.79},{"k":"m3L","c":"Y","x":0.98,"y":-0.92},{"k":"m3L","c":"Y","x":1.08,"y":-1.07},{"k":"m3L","c":"Y","x":1.16,"y":-1.2},
{"k":"m4L","c":"Y","x":0.38,"y":-0.7},{"k":"m4L","c":"Y","x":0.47,"y":-0.59},{"k":"m4L","c":"Y","x":0.58,"y":-0.56},{"k":"m4L","c":"Y","x":0.7,"y":-0.585},{"k":"m4L","c":"Y","x":0.8,"y":-0.66},{"k":"m4L","c":"Y","x":0.89,"y":-0.79},{"k":"m4L","c":"Y","x":0.98,"y":-0.92},{"k":"m4L","c":"Y","x":1.08,"y":-1.07},{"k":"m4L","c":"Y","x":1.16,"y":-1.2},
{"k":"rtL","c":"C","x":0.51,"y":-0.865},{"k":"rtL","c":"C","x":0.57,"y":-0.78},{"k":"rtL","c":"C","x":0.66,"y":-0.74},{"k":"rtL","c":"C","x":0.76,"y":-0.735},{"k":"rtL","c":"C","x":0.85,"y":-0.76},{"k":"rtL","c":"C","x":0.92,"y":-0.82},{"k":"rtL","c":"C","x":0.98,"y":-0.92},{"k":"rtL","c":"C","x":1.08,"y":-1.07},{"k":"rtL","c":"C","x":1.16,"y":-1.2},
{"k":"boL","c":"R","x":0.685,"y":0},{"k":"boL","c":"R","x":0.685,"y":-0.2},{"k":"boL","c":"R","x":0.7,"y":-0.3},{"k":"boL","c":"R","x":0.75,"y":-0.4},{"k":"boL","c":"R","x":0.82,"y":-0.59},{"k":"boL","c":"R","x":0.9,"y":-0.74},{"k":"boL","c":"R","x":1.01,"y":-0.91},{"k":"boL","c":"R","x":1.1,"y":-1.07},{"k":"boL","c":"R","x":1.17,"y":-1.2},
{"k":"yr","c":"Y","x":-1.2,"y":0},{"k":"yr","c":"Y","x":-0.555,"y":0},
{"k":"mr","c":"M","x":-0.555,"y":0},{"k":"mr","c":"M","x":-0.285,"y":0},
{"k":"cr","c":"C","x":0,"y":0},{"k":"cr","c":"C","x":0.04,"y":0},
{"k":"rr","c":"R","x":0.42,"y":0},{"k":"rr","c":"R","x":0.685,"y":0},
{"k":"kr","c":"K","x":0.685,"y":0},{"k":"kr","c":"K","x":0.9,"y":0},
{"k":"br","c":"B","x":0.95,"y":0},{"k":"br","c":"B","x":1,"y":0}
],
"bx":[
{"c":"m4","x":0.33,"y":0.7},{"c":"m2","x":0.35,"y":0.72},{"c":"m3","x":0.37,"y":0.74},{"c":"m6","x":0.39,"y":0.76},{"c":"m1","x":0.41,"y":0.78},{"c":"m5","x":0.43,"y":0.8},{"c":"m2","x":0.45,"y":0.82},{"c":"m4","x":0.47,"y":0.84},
{"c":"m4","x":0.33,"y":-0.7},{"c":"m2","x":0.35,"y":-0.72},{"c":"m3","x":0.37,"y":-0.74},{"c":"m6","x":0.39,"y":-0.76},{"c":"m1","x":0.41,"y":-0.78},{"c":"m5","x":0.43,"y":-0.8},{"c":"m2","x":0.45,"y":-0.82},{"c":"m4","x":0.47,"y":-0.84},
{"c":"m2","x":-0.1,"y":0},{"c":"m4","x":-0.08,"y":0},{"c":"m1","x":-0.06,"y":0},{"c":"m7","x":-0.03,"y":0},
{"c":"m2","x":0.15,"y":0},{"c":"m6","x":0.19,"y":0},{"c":"m1","x":0.23,"y":0},{"c":"m5","x":0.27,"y":0},{"c":"m4","x":0.31,"y":0},{"c":"R","x":0.35,"y":0},{"c":"m3","x":0.39,"y":0},
{"c":"m1","x":0.89,"y":0},{"c":"m4","x":0.92,"y":0},{"c":"m5","x":0.95,"y":0},{"c":"m6","x":0.98,"y":0},
{"c":"K","x":0.518,"y":0.41},{"c":"K","x":0.574,"y":0.524},{"c":"K","x":0.508,"y":-0.421},{"c":"K","x":0.565,"y":-0.525}
],
"bo":[{"x":-0.285,"y":0},{"x":0.04,"y":0},{"x":0.97,"y":0},{"x":1.03,"y":0},{"x":0.51,"y":0.865},{"x":0.51,"y":-0.865}],
"bt":[{"t":"k","x":-1.097,"y":0.986},{"t":"=0:0.1:1","x":-0.873,"y":0.986},{"t":"ω","x":-1.097,"y":0.77},{"t":"= 0.01ω","x":-0.844,"y":0.77},{"t":"k","x":-1.097,"y":0.6},{"t":"=10","x":-0.895,"y":0.6},{"t":"ω","x":-1.097,"y":0.43},{"t":"= 0.3ω","x":-0.867,"y":0.43}],
"bs":[{"t":"adv","x":-1.027,"y":0.92},{"t":"adv","x":-1.003,"y":0.713},{"t":"s","x":-0.38,"y":0.713},{"t":"adi","x":-1.027,"y":0.54},{"t":"adi","x":-1.003,"y":0.363},{"t":"s","x":-0.47,"y":0.335}]
},
"vconcat":[
{"width":420,"height":420,
 "resolve":{"axis":{"x":"independent","y":"independent"}},
 "layer":[
  {"data":{"name":"circ"},"mark":{"type":"line","order":false,"interpolate":"catmull-rom","stroke":"#555","strokeWidth":1.3,"strokeDash":[1.5,4.5]},
   "encoding":{"x":{"field":"x","type":"quantitative","scale":{"domain":[-1.2,1.2],"nice":false,"zero":false},"axis":{"values":[-1,-0.5,0,0.5,1],"labelExpr":"'' + datum.value","title":["Real axis","(a)"]}},
               "y":{"field":"y","type":"quantitative","scale":{"domain":[-1.2,1.2],"nice":false,"zero":false},"axis":{"values":[-1,-0.5,0,0.5,1],"labelExpr":"'' + datum.value","title":"Imaginary axis"}}}},
  {"data":{"name":"circ"},"mark":{"type":"point","opacity":0},
   "encoding":{"x":{"field":"x","type":"quantitative","scale":{"domain":[-1.2,1.2],"nice":false,"zero":false},"axis":{"orient":"top","values":[-1,-0.5,0,0.5,1],"labels":false,"title":null}},
               "y":{"field":"y","type":"quantitative","scale":{"domain":[-1.2,1.2],"nice":false,"zero":false},"axis":{"orient":"right","values":[-1,-0.5,0,0.5,1],"labels":false,"title":null}}}},
  {"data":{"values":[{}]},"mark":{"type":"rule","stroke":"#555","strokeWidth":1.3,"strokeDash":[1.5,4.5]},"encoding":{"x":{"datum":0,"type":"quantitative","scale":{"domain":[-1.2,1.2],"nice":false,"zero":false},"axis":null}}},
  {"data":{"values":[{}]},"mark":{"type":"rule","stroke":"#555","strokeWidth":1.3,"strokeDash":[1.5,4.5]},"encoding":{"y":{"datum":0,"type":"quantitative","scale":{"domain":[-1.2,1.2],"nice":false,"zero":false},"axis":null}}},
  {"data":{"name":"al"},"mark":{"type":"line","order":false,"clip":true,"interpolate":"catmull-rom","strokeWidth":1.4},
   "encoding":{"x":{"field":"x","type":"quantitative","scale":{"domain":[-1.2,1.2],"nice":false,"zero":false},"axis":null},
               "y":{"field":"y","type":"quantitative","scale":{"domain":[-1.2,1.2],"nice":false,"zero":false},"axis":null},
               "detail":{"field":"k"},
               "color":{"field":"c","type":"nominal","scale":{"domain":["B","K","G","R","C","M","Y","m1","m2","m3","m4","m5","m6","m7"],"range":["#0000ff","#262626","#008000","#ff0000","#00bfbf","#bf00bf","#bfbf00","#0072bd","#d95319","#edb120","#7e2f8e","#77ac30","#4dbeee","#a2142f"]},"legend":null}}},
  {"data":{"name":"ax"},"mark":{"type":"point","shape":"M-1,-1L1,1M-1,1L1,-1","filled":false,"size":90,"strokeWidth":1.6,"opacity":1},
   "encoding":{"x":{"field":"x","type":"quantitative","scale":{"domain":[-1.2,1.2],"nice":false,"zero":false},"axis":null},
               "y":{"field":"y","type":"quantitative","scale":{"domain":[-1.2,1.2],"nice":false,"zero":false},"axis":null},
               "color":{"field":"c","type":"nominal","scale":{"domain":["B","K","G","R","C","M","Y","m1","m2","m3","m4","m5","m6","m7"],"range":["#0000ff","#262626","#008000","#ff0000","#00bfbf","#bf00bf","#bfbf00","#0072bd","#d95319","#edb120","#7e2f8e","#77ac30","#4dbeee","#a2142f"]},"legend":null}}},
  {"data":{"name":"ao"},"mark":{"type":"point","shape":"circle","filled":false,"size":130,"strokeWidth":1.5,"color":"#7e2f8e","opacity":1},
   "encoding":{"x":{"field":"x","type":"quantitative","scale":{"domain":[-1.2,1.2],"nice":false,"zero":false},"axis":null},
               "y":{"field":"y","type":"quantitative","scale":{"domain":[-1.2,1.2],"nice":false,"zero":false},"axis":null}}},
  {"data":{"name":"at"},"mark":{"type":"text","align":"left","baseline":"alphabetic","font":"Liberation Serif, Times New Roman, serif","fontSize":25,"color":"#222"},
   "encoding":{"x":{"field":"x","type":"quantitative","scale":{"domain":[-1.2,1.2],"nice":false,"zero":false},"axis":null},
               "y":{"field":"y","type":"quantitative","scale":{"domain":[-1.2,1.2],"nice":false,"zero":false},"axis":null},"text":{"field":"t"}}},
  {"data":{"name":"as"},"mark":{"type":"text","align":"left","baseline":"alphabetic","font":"Liberation Serif, Times New Roman, serif","fontSize":18,"color":"#222"},
   "encoding":{"x":{"field":"x","type":"quantitative","scale":{"domain":[-1.2,1.2],"nice":false,"zero":false},"axis":null},
               "y":{"field":"y","type":"quantitative","scale":{"domain":[-1.2,1.2],"nice":false,"zero":false},"axis":null},"text":{"field":"t"}}}
 ]},
{"width":420,"height":420,
 "resolve":{"axis":{"x":"independent","y":"independent"}},
 "layer":[
  {"data":{"name":"circ"},"mark":{"type":"line","order":false,"interpolate":"catmull-rom","stroke":"#555","strokeWidth":1.3,"strokeDash":[1.5,4.5]},
   "encoding":{"x":{"field":"x","type":"quantitative","scale":{"domain":[-1.2,1.2],"nice":false,"zero":false},"axis":{"values":[-1,-0.5,0,0.5,1],"labelExpr":"'' + datum.value","title":["Real axis","(b)"]}},
               "y":{"field":"y","type":"quantitative","scale":{"domain":[-1.2,1.2],"nice":false,"zero":false},"axis":{"values":[-1,-0.5,0,0.5,1],"labelExpr":"'' + datum.value","title":"Imaginary axis"}}}},
  {"data":{"name":"circ"},"mark":{"type":"point","opacity":0},
   "encoding":{"x":{"field":"x","type":"quantitative","scale":{"domain":[-1.2,1.2],"nice":false,"zero":false},"axis":{"orient":"top","values":[-1,-0.5,0,0.5,1],"labels":false,"title":null}},
               "y":{"field":"y","type":"quantitative","scale":{"domain":[-1.2,1.2],"nice":false,"zero":false},"axis":{"orient":"right","values":[-1,-0.5,0,0.5,1],"labels":false,"title":null}}}},
  {"data":{"values":[{}]},"mark":{"type":"rule","stroke":"#555","strokeWidth":1.3,"strokeDash":[1.5,4.5]},"encoding":{"x":{"datum":0,"type":"quantitative","scale":{"domain":[-1.2,1.2],"nice":false,"zero":false},"axis":null}}},
  {"data":{"values":[{}]},"mark":{"type":"rule","stroke":"#555","strokeWidth":1.3,"strokeDash":[1.5,4.5]},"encoding":{"y":{"datum":0,"type":"quantitative","scale":{"domain":[-1.2,1.2],"nice":false,"zero":false},"axis":null}}},
  {"data":{"name":"bl"},"mark":{"type":"line","order":false,"clip":true,"interpolate":"catmull-rom","strokeWidth":1.4},
   "encoding":{"x":{"field":"x","type":"quantitative","scale":{"domain":[-1.2,1.2],"nice":false,"zero":false},"axis":null},
               "y":{"field":"y","type":"quantitative","scale":{"domain":[-1.2,1.2],"nice":false,"zero":false},"axis":null},
               "detail":{"field":"k"},
               "color":{"field":"c","type":"nominal","scale":{"domain":["B","K","G","R","C","M","Y","m1","m2","m3","m4","m5","m6","m7"],"range":["#0000ff","#262626","#008000","#ff0000","#00bfbf","#bf00bf","#bfbf00","#0072bd","#d95319","#edb120","#7e2f8e","#77ac30","#4dbeee","#a2142f"]},"legend":null}}},
  {"data":{"name":"bx"},"mark":{"type":"point","shape":"M-1,-1L1,1M-1,1L1,-1","filled":false,"size":90,"strokeWidth":1.6,"opacity":1},
   "encoding":{"x":{"field":"x","type":"quantitative","scale":{"domain":[-1.2,1.2],"nice":false,"zero":false},"axis":null},
               "y":{"field":"y","type":"quantitative","scale":{"domain":[-1.2,1.2],"nice":false,"zero":false},"axis":null},
               "color":{"field":"c","type":"nominal","scale":{"domain":["B","K","G","R","C","M","Y","m1","m2","m3","m4","m5","m6","m7"],"range":["#0000ff","#262626","#008000","#ff0000","#00bfbf","#bf00bf","#bfbf00","#0072bd","#d95319","#edb120","#7e2f8e","#77ac30","#4dbeee","#a2142f"]},"legend":null}}},
  {"data":{"name":"bo"},"mark":{"type":"point","shape":"circle","filled":false,"size":130,"strokeWidth":1.5,"color":"#7e2f8e","opacity":1},
   "encoding":{"x":{"field":"x","type":"quantitative","scale":{"domain":[-1.2,1.2],"nice":false,"zero":false},"axis":null},
               "y":{"field":"y","type":"quantitative","scale":{"domain":[-1.2,1.2],"nice":false,"zero":false},"axis":null}}},
  {"data":{"name":"bt"},"mark":{"type":"text","align":"left","baseline":"alphabetic","font":"Liberation Serif, Times New Roman, serif","fontSize":25,"color":"#222"},
   "encoding":{"x":{"field":"x","type":"quantitative","scale":{"domain":[-1.2,1.2],"nice":false,"zero":false},"axis":null},
               "y":{"field":"y","type":"quantitative","scale":{"domain":[-1.2,1.2],"nice":false,"zero":false},"axis":null},"text":{"field":"t"}}},
  {"data":{"name":"bs"},"mark":{"type":"text","align":"left","baseline":"alphabetic","font":"Liberation Serif, Times New Roman, serif","fontSize":18,"color":"#222"},
   "encoding":{"x":{"field":"x","type":"quantitative","scale":{"domain":[-1.2,1.2],"nice":false,"zero":false},"axis":null},
               "y":{"field":"y","type":"quantitative","scale":{"domain":[-1.2,1.2],"nice":false,"zero":false},"axis":null},"text":{"field":"t"}}}
 ]}
]
}
